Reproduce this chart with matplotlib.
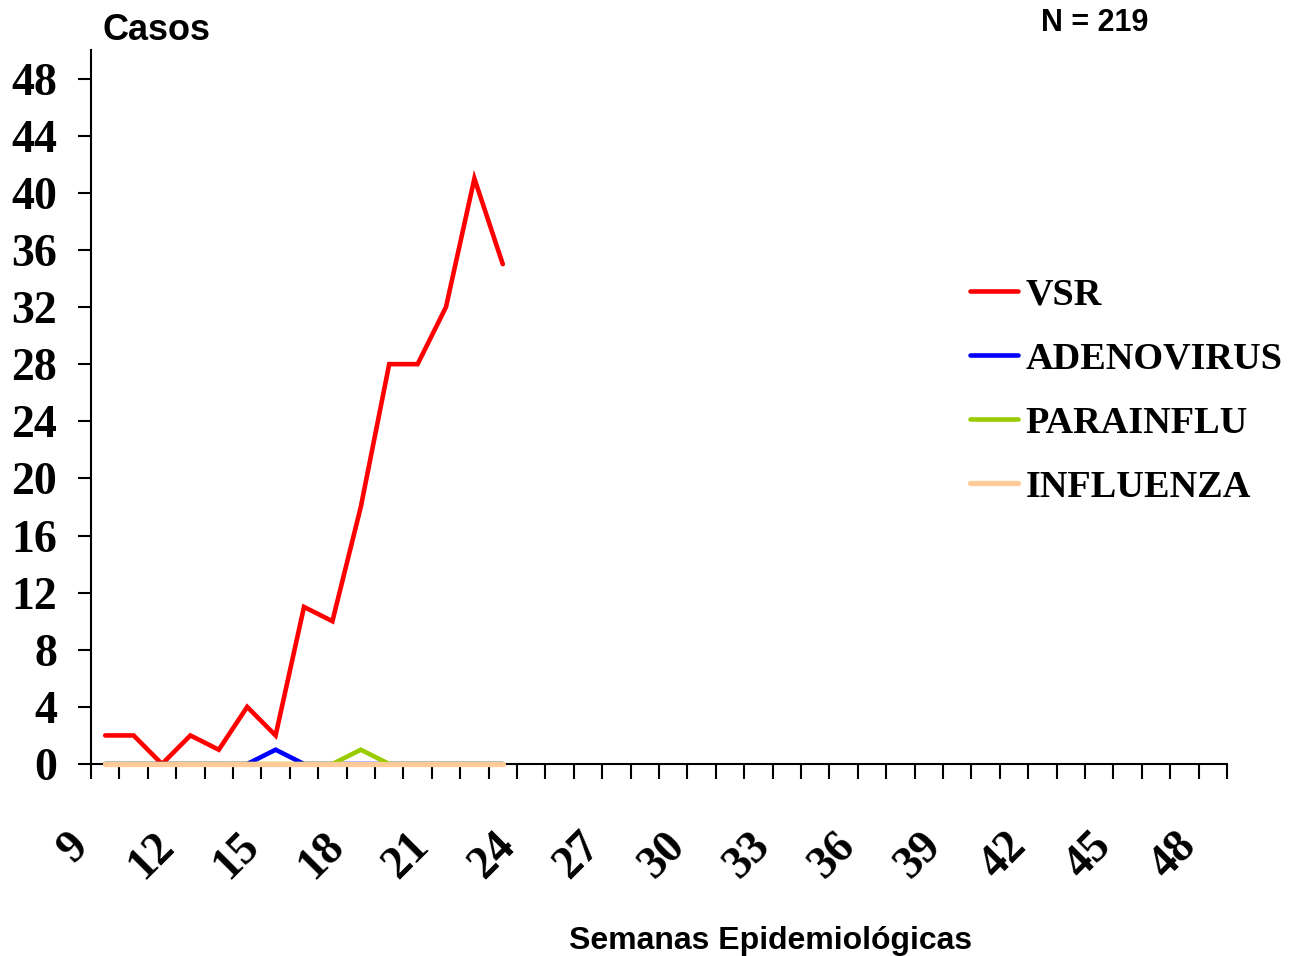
import matplotlib
matplotlib.use("Agg")
import matplotlib.pyplot as plt
from matplotlib.transforms import ScaledTranslation
from matplotlib.ticker import FixedLocator

weeks = list(range(9, 49))
data_weeks = list(range(9, 24))
vsr = [2, 2, 0, 2, 1, 4, 2, 11, 10, 18, 28, 28, 32, 41, 35]
adenovirus = [0, 0, 0, 0, 0, 0, 1, 0, 0, 0, 0, 0, 0, 0, 0]
parainflu = [0, 0, 0, 0, 0, 0, 0, 0, 0, 1, 0, 0, 0, 0, 0]
influenza = [0, 0, 0, 0, 0, 0, 0, 0, 0, 0, 0, 0, 0, 0, 0]
series_names = ["VSR", "ADENOVIRUS", "PARAINFLU", "INFLUENZA"]
series_colors = ["#FF0000", "#0000FF", "#99CC00", "#FFCC99"]
y_ticks = list(range(0, 49, 4))
x_label_weeks = list(range(9, 49, 3))

fig = plt.figure(figsize=(12.91, 9.56), dpi=100)
ax = fig.add_axes([91/1291, 1-764/956, (1227-91)/1291, (764-50)/956])

pos = {w: i for i, w in enumerate(weeks)}
xs = [pos[w] for w in data_weeks]
for vals, name, col, lw in zip([vsr, adenovirus, parainflu, influenza], series_names,
                                series_colors, [3.3, 3.3, 3.3, 3.8]):
    ax.plot(xs, vals, color=col, lw=lw, label=name, solid_capstyle='round',
            solid_joinstyle='miter', zorder=3, clip_on=False)

ax.set_xlim(-0.5, len(weeks) - 0.5)
ax.set_ylim(0, 50)
for s in ["top", "right"]:
    ax.spines[s].set_visible(False)
for s in ["left", "bottom"]:
    ax.spines[s].set_linewidth(1.5)

serif = {"family": "Liberation Serif", "weight": "bold"}
ax.set_yticks(y_ticks)
ax.set_yticklabels([str(v) for v in y_ticks], fontdict=serif, fontsize=33)
ax.tick_params(axis='y', direction='out', length=9.5, width=1.5, pad=15)

ax.set_xticks([pos[w] for w in x_label_weeks])
ax.set_xticklabels([str(w) for w in x_label_weeks], fontdict=serif, fontsize=33,
                   rotation=45, ha='right', va='top')
ax.tick_params(axis='x', which='major', length=0, pad=44)
ax.xaxis.set_minor_locator(FixedLocator([i - 0.5 for i in range(len(weeks) + 1)]))
ax.tick_params(axis='x', which='minor', direction='out', length=11, width=1.5)
off = ScaledTranslation(-8/100, 0, fig.dpi_scale_trans)
for lbl in ax.get_xticklabels():
    lbl.set_transform(lbl.get_transform() + off)

leg = ax.legend(loc='center left', bbox_to_anchor=(970/1291, 1-391/956),
                bbox_transform=fig.transFigure, frameon=False,
                prop={"family": "Liberation Serif", "weight": "bold", "size": 27.5},
                handlelength=1.25, handletextpad=0.2, labelspacing=0.76,
                borderpad=0, borderaxespad=0)

sans = {"family": "Liberation Sans", "weight": "bold"}
fig.text(102/1291, 1-30/956, "Casos", fontdict=sans, fontsize=26, ha='left', va='center')
fig.text(1095/1291, 1-23/956, "N = 219", fontdict=sans, fontsize=22, ha='center', va='center')
fig.text(771/1291, 1-941/956, "Semanas Epidemiológicas", fontdict=sans, fontsize=23,
         ha='center', va='center')

fig.savefig("out.png", dpi=100)
